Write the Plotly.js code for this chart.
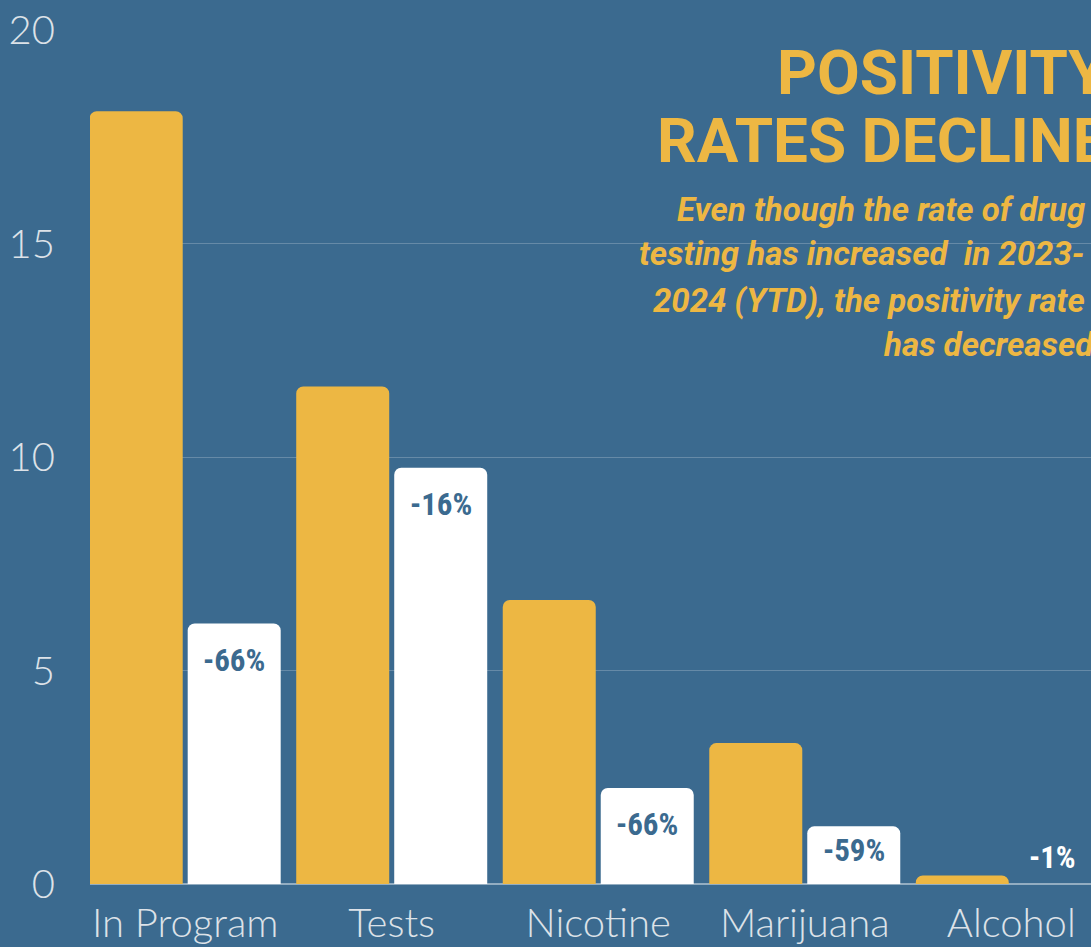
<!DOCTYPE html>
<html>
<head>
<meta charset="utf-8">
<script src="https://cdn.plot.ly/plotly-3.0.1.min.js"></script>
<style>
html,body{margin:0;padding:0;background:#3b6a8f;}
#chart{width:1091px;height:947px;}
</style>
</head>
<body>
<div id="chart"></div>
<script>
var categories = ['In Program', 'Tests', 'Nicotine', 'Marijuana', 'Alcohol'];
var prevValues = [18.1, 11.65, 6.65, 3.3, 0.2];
var currValues = [6.1, 9.75, 2.25, 1.35, 0.2];
var changeLabels = ['-66%', '-16%', '-66%', '-59%', '-1%'];
var yTicks = [0, 5, 10, 15, 20];
var titleLines = ['POSITIVITY', 'RATES DECLINE'];
var subtitleLines = ['Even though the rate of drug', 'testing has increased  in 2023-', '2024 (YTD), the positivity rate', 'has decreased'];

var BG = '#3b6a8f', YELLOW = '#edb743', WHITE = '#ffffff', LABEL = '#3b6a8f';
var W = 1091, H = 947, L = 90, T = 30, B = 63;
var plotH = H - T - B, plotW = W - L;
function px2x(px) { return (px - L) / plotW; }
function px2y(py) { return (H - B - py) / plotH; }

var traces = [
  { type: 'bar', x: categories, y: prevValues, name: 'Previous',
    marker: { color: YELLOW }, hoverinfo: 'skip' },
  { type: 'bar', x: categories, y: currValues, name: 'Current',
    marker: { color: currValues.map(function (v, i) { return i === categories.length - 1 ? 'rgba(0,0,0,0)' : WHITE; }) },
    hoverinfo: 'skip' }
];

var pxPerUnit = plotH / 20;
var annotations = [];
changeLabels.forEach(function (lab, i) {
  var h = currValues[i] * pxPerUnit;
  var last = i === changeLabels.length - 1;
  annotations.push({
    x: categories[i], y: currValues[i], xref: 'x', yref: 'y',
    text: lab, showarrow: false, xshift: last ? 41 : 49,
    yshift: last ? 18 : -Math.min(37, h / 2 - 5),
    yanchor: 'middle',
    font: { family: 'Noto Sans Condensed, Liberation Sans Narrow, Roboto Condensed, Roboto, sans-serif', size: 31, weight: 700, color: last ? WHITE : LABEL }
  });
});
var titleStart = [775, 655], titleMid = [72, 140];
titleLines.forEach(function (t, i) {
  annotations.push({ x: px2x(titleStart[i]), y: px2y(titleMid[i]), xref: 'paper', yref: 'paper',
    xanchor: 'left', yanchor: 'middle', showarrow: false, text: t,
    font: { family: 'Roboto, sans-serif', size: 62, weight: 700, color: YELLOW } });
});
var subStart = [675, 637, 651, 881], subMid = [209, 254, 300, 345];
subtitleLines.forEach(function (t, i) {
  annotations.push({ x: px2x(subStart[i]), y: px2y(subMid[i]), xref: 'paper', yref: 'paper',
    xanchor: 'left', yanchor: 'middle', showarrow: false, text: t,
    font: { family: 'Roboto, sans-serif', size: 33, weight: 700, style: 'italic', color: YELLOW } });
});

var layout = {
  width: W, height: H,
  margin: { l: L, r: 0, t: T, b: B, pad: 0 },
  paper_bgcolor: BG, plot_bgcolor: BG,
  barmode: 'group', bargap: 0.051, bargroupgap: 0.051, barcornerradius: 7,
  showlegend: false,
  xaxis: {
    range: [-0.461, 4.386], showgrid: false, zeroline: false, showline: false, ticks: '',
    tickfont: { family: 'Lato, sans-serif', size: 40, weight: 300, color: '#dde2e8' },
    ticklabelstandoff: 12, fixedrange: true
  },
  yaxis: {
    range: [0, 20], tickvals: yTicks, ticktext: yTicks.map(String),
    showgrid: true, gridcolor: 'rgba(255,255,255,0.22)', gridwidth: 1,
    zeroline: true, zerolinecolor: 'rgba(255,255,255,0.45)', zerolinewidth: 2,
    showline: false, ticks: '', ticklabelstandoff: 34,
    tickfont: { family: 'Lato, sans-serif', size: 40, weight: 300, color: '#dde2e8' },
    fixedrange: true
  },
  annotations: annotations
};

Plotly.newPlot('chart', traces, layout, { displayModeBar: false, staticPlot: true });
</script>
</body>
</html>
